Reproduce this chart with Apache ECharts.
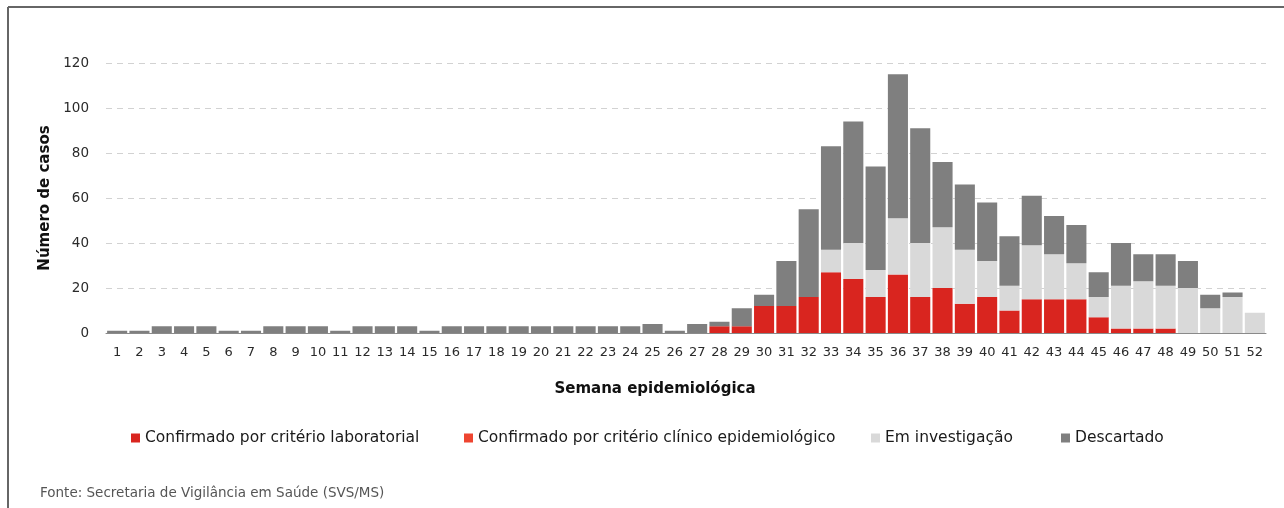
<!DOCTYPE html>
<html>
<head>
<meta charset="utf-8">
<script src="https://cdn.jsdelivr.net/npm/echarts@6/dist/echarts.min.js"></script>
<style>
html,body{margin:0;padding:0;background:#fff;}
#chart{width:1284px;height:508px;}
</style>
</head>
<body>
<div id="chart"></div>
<script>
const weeks = ['1','2','3','4','5','6','7','8','9','10','11','12','13','14','15','16','17','18','19','20','21','22','23','24','25','26','27','28','29','30','31','32','33','34','35','36','37','38','39','40','41','42','43','44','45','46','47','48','49','50','51','52'];
const confirmadoLab = [0,0,0,0,0,0,0,0,0,0,0,0,0,0,0,0,0,0,0,0,0,0,0,0,0,0,0,3,3,12,12,16,27,24,16,26,16,20,13,16,10,15,15,15,7,2,2,2,0,0,0,0];
const confirmadoClin = [0,0,0,0,0,0,0,0,0,0,0,0,0,0,0,0,0,0,0,0,0,0,0,0,0,0,0,0,0,0,0,0,0,0,0,0,0,0,0,0,0,0,0,0,0,0,0,0,0,0,0,0];
const emInvestigacao = [0,0,0,0,0,0,0,0,0,0,0,0,0,0,0,0,0,0,0,0,0,0,0,0,0,0,0,0,0,0,0,0,10,16,12,25,24,27,24,16,11,24,20,16,9,19,21,19,20,11,16,9];
const descartado = [1,1,3,3,3,1,1,3,3,3,1,3,3,3,1,3,3,3,3,3,3,3,3,3,4,1,4,2,8,5,20,39,46,54,46,64,51,29,29,26,22,22,17,17,11,19,12,14,12,6,2,0];
const seriesNames = ['Confirmado por critério laboratorial','Confirmado por critério clínico epidemiológico','Em investigação','Descartado'];
const seriesColors = ['#d9251f','#ee4530','#d9d9d9','#7f7f7f'];
const legendLefts = [126, 459, 866, 1056];

const chart = echarts.init(document.getElementById('chart'), null, {renderer:'canvas'});
const FONT = 'DejaVu Sans';
const values = [confirmadoLab, confirmadoClin, emInvestigacao, descartado];

const option = {
  animation:false,
  backgroundColor:'#fff',
  grid:{left:106, right:18, top:63, bottom:175, containLabel:false},
  xAxis:{
    type:'category', data:weeks,
    axisLine:{show:true, lineStyle:{color:'#8a8a8a', width:1}},
    axisTick:{show:false},
    axisLabel:{interval:0, margin:13, color:'#2a2a2a', fontFamily:FONT, fontSize:13},
    name:'Semana epidemiológica', nameLocation:'middle', nameGap:49,
    nameTextStyle:{fontFamily:FONT, fontWeight:'bold', fontSize:15, color:'#111', padding:[0,62,0,0]}
  },
  yAxis:{
    type:'value', min:0, max:120, interval:20,
    axisLine:{show:false}, axisTick:{show:false},
    axisLabel:{margin:17, color:'#2a2a2a', fontFamily:FONT, fontSize:13.5},
    splitLine:{show:true, lineStyle:{color:'#d2d2d2', type:[6,5], width:1}},
    name:'Número de casos', nameLocation:'middle', nameRotate:90, nameGap:53,
    nameTextStyle:{fontFamily:FONT, fontWeight:'bold', fontSize:15, color:'#111'}
  },
  legend: seriesNames.map((n,i)=>({
    data:[n], left:legendLefts[i], top:425, itemWidth:9, itemHeight:9, itemGap:5,
    icon:'rect', textStyle:{fontFamily:FONT, fontSize:15.5, color:'#1a1a1a'}, selectedMode:false
  })),
  series: seriesNames.map((n,i)=>({
    name:n, type:'bar', stack:'total', data:values[i], barCategoryGap:'10%',
    itemStyle:{color:seriesColors[i]}, emphasis:{disabled:true}
  })),
  graphic:[
    {type:'line', shape:{x1:8,y1:7,x2:1284,y2:7}, style:{stroke:'#666', lineWidth:2}},
    {type:'line', shape:{x1:8,y1:7,x2:8,y2:508}, style:{stroke:'#666', lineWidth:2}},
    {type:'text', left:40, top:486, style:{text:'Fonte: Secretaria de Vigilância em Saúde (SVS/MS)', fontFamily:FONT, fontSize:13.5, fill:'#555'}}
  ]
};
chart.setOption(option);
</script>
</body>
</html>
